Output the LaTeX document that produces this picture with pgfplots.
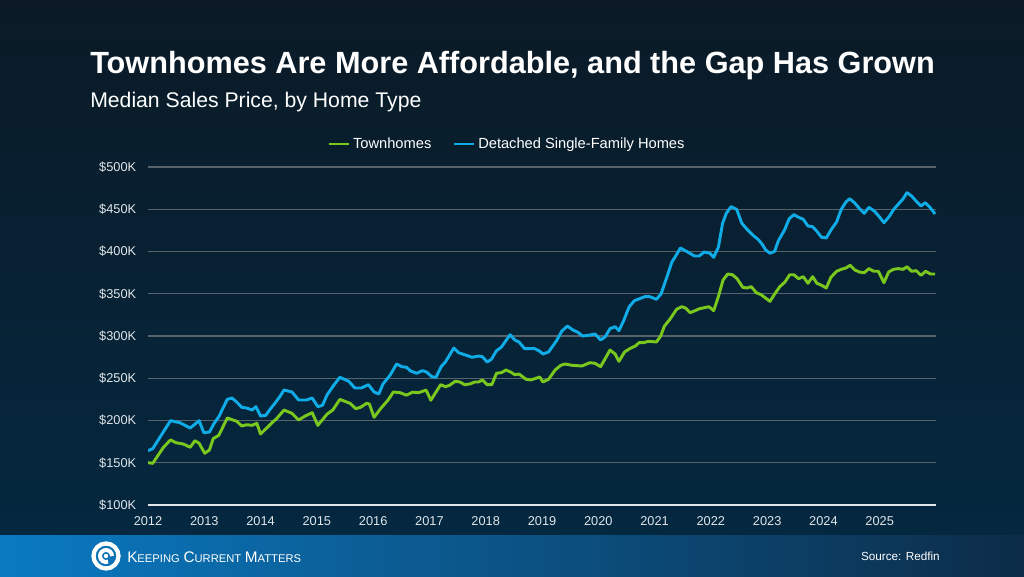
\documentclass[border=0pt]{standalone}
\usepackage{fontspec}
\setmainfont{Liberation Sans}
\usepackage{pgfplots}
\pgfplotsset{compat=1.18}

\definecolor{bgtop}{RGB}{11,26,38}
\definecolor{bgbot}{RGB}{4,40,64}
\definecolor{town}{RGB}{122,200,30}
\definecolor{detached}{RGB}{16,172,232}
\definecolor{gridc}{RGB}{88,98,106}
\definecolor{footl}{RGB}{10,122,194}
\definecolor{footr}{RGB}{12,44,72}
\definecolor{ticktxt}{RGB}{225,230,234}

\begin{document}
\begin{tikzpicture}[x=0.75pt,y=0.75pt]
% background and footer band (1 unit = 1 px of the 1024x576 picture)
\shade[top color=bgtop,bottom color=bgbot] (0,41) rectangle (1024,576);
\shade[left color=footl,right color=footr] (0,0) rectangle (1024,41);
\useasboundingbox (0,0) rectangle (1024,576);

\node[anchor=base west,inner sep=0,text=white,font=\fontsize{23}{27}\selectfont\bfseries]
  at (90,502) {Townhomes Are More Affordable, and the Gap Has Grown};
\node[anchor=base west,inner sep=0,text=white,font=\fontsize{15.9}{19}\selectfont]
  at (90,468) {Median Sales Price, by Home Type};

\begin{axis}[
  at={(111pt,53.25pt)}, anchor=south west,
  width=591pt, height=253.5pt, scale only axis,
  xmin=0, xmax=168, ymin=100, ymax=500,
  axis line style={draw=none},
  major tick length=0pt,
  xtick={0,12,24,36,48,60,72,84,96,108,120,132,144,156},
  xticklabels={2012,2013,2014,2015,2016,2017,2018,2019,2020,2021,2022,2023,2024,2025},
  ytick={150,200,250,300,350,400,450,500},
  yticklabels={\$150K,\$200K,\$250K,\$300K,\$350K,\$400K,\$450K,\$500K},
  extra y ticks={100},
  extra y tick labels={\$100K},
  extra y tick style={grid style={draw=ticktxt,line width=1.5pt}},
  ymajorgrids,
  grid style={draw=gridc,line width=0.8pt},
  tick label style={font=\fontsize{9.6}{11}\selectfont,text=ticktxt},
  yticklabel style={xshift=-5.3pt},
  xticklabel style={yshift=-4.8pt},
  legend columns=2,
  legend style={at={(axis description cs:0.456,1.068)},anchor=center,
    draw=none,fill=none,text=white,font=\fontsize{11}{13}\selectfont,
    /tikz/every even column/.append style={column sep=14pt}},
  legend image code/.code={\draw[#1,line width=2.2pt] (0pt,0pt) -- (15pt,0pt);},
  every axis plot/.append style={line width=2.2pt,line join=round,mark=none},
]
\addplot[town] coordinates {
(0,150.1) (1,149.3) (3.3,168.3) (4.8,177.0) (6,173.7) (7.5,172.2) (9,168.3) (10,176.1)
(10.9,173.0) (12.1,161.2) (13.1,165.1) (13.9,178.5) (15.1,182.5) (16.9,203.0) (18.9,199.1)
(20,193.5) (21,195.0) (22.2,194.3) (23.2,196.7) (24,184.0) (25.3,191.1) (26.6,198.2)
(27.4,202.1) (29,212.4) (30.7,208.5) (32.1,200.6) (33.5,205.3) (35,209.2) (36.2,194.3)
(38.2,207.7) (39.4,212.4) (40.9,225.0) (43.1,220.3) (44.3,214.0) (45.3,215.6) (46.6,220.3)
(47.2,219.5) (48.2,203.8) (49.7,214.8) (51.2,224.3) (52.3,233.7) (53.7,233.0) (55.1,230.0)
(56.4,233.5) (57.7,233.0) (59.3,236.0) (60.3,224.0) (61.4,233.7) (62.4,242.4) (63.4,240.0)
(64.3,241.7) (65.5,246.4) (66.5,245.6) (67.5,242.4) (68.6,243.2) (69.7,245.6) (70.5,245.6)
(71.3,248.0) (72.3,242.4) (73.3,242.4) (74.3,255.9) (75.4,256.7) (76.3,259.8) (77.3,257.4)
(78.2,254.2) (79.1,255.0) (80.6,248.8) (81.6,248.0) (82.5,249.6) (83.5,251.5) (84.2,245.6)
(85.4,248.8) (86.8,259.8) (88,265.3) (88.9,266.9) (90.4,265.3) (92.5,264.5) (94.2,268.4)
(95.3,267.7) (96.5,263.7) (98.5,283.4) (99.6,278.7) (100.4,270.0) (101.6,281.1) (102.7,285.0)
(103.9,288.2) (104.7,292.1) (105.6,292.1) (106.7,293.7) (108.4,292.9) (109.3,300.0)
(110.1,311.8) (111.3,320.0) (112.7,331.6) (113.8,334.7) (114.6,333.1) (115.6,327.6)
(117.6,332.3) (119.6,334.7) (120.6,330.0) (121.6,346.5) (122.6,366.3) (123.6,373.4)
(124.6,372.5) (125.6,367.8) (126.8,357.6) (127.7,356.8) (128.6,358.4) (129.7,351.2)
(130.7,348.9) (132.6,341.0) (133.7,350.5) (134.7,358.4) (135.8,363.9) (136.8,372.5)
(137.7,372.5) (138.7,367.8) (139.7,370.2) (140.7,362.4) (141.7,370.2) (142.6,362.4)
(143.6,360.0) (144.6,356.8) (145.6,369.5) (146.8,376.6) (147.8,378.9) (148.8,380.5)
(149.7,383.7) (150.7,378.1) (151.7,375.7) (152.7,374.9) (153.7,379.7) (154.7,376.6)
(155.7,376.6) (156.9,363.1) (157.9,375.7) (158.9,378.9) (160,379.7) (161,378.9)
(161.8,382.0) (162.8,376.6) (163.8,377.3) (164.8,371.8) (165.8,376.6) (166.8,373.4) (167.8,373.4)
};
\addlegendentry{Townhomes}
\addplot[detached] coordinates {
(0,164.3) (1,166.6) (4.8,199.8) (6.8,197.4) (9,191.1) (10.9,199.8) (11.9,185.6) (13.1,186.4)
(14.1,196.7) (15.1,204.5) (16.9,225.0) (17.9,226.6) (18.9,221.9) (20,215.6) (21,214.8)
(22.2,212.4) (23,216.4) (24,205.3) (25.1,206.1) (26,213.0) (27,220.0) (28.1,228.2) (29,236.1)
(30.7,233.7) (32.1,224.3) (33.8,224.3) (35,226.6) (36.2,216.4) (37.2,218.0) (38.2,230.5)
(39.6,241.7) (40.9,251.1) (42.8,246.4) (44.1,238.5) (45.5,238.5) (47,242.4) (48.2,233.7)
(49.2,231.4) (50.1,243.2) (51.6,253.5) (53,266.9) (54.1,263.7) (55.1,263.0) (56,258.5)
(57.3,255.9) (58.5,259.0) (59.4,257.4) (60.5,251.8) (61.4,251.1) (62.5,263.7) (63.4,269.2)
(65.2,285.8) (66.2,280.3) (67.5,277.9) (69.1,274.8) (70.5,276.3) (71.3,275.5) (72.3,269.2)
(73.2,272.4) (74.3,282.6) (75.3,286.6) (77.2,301.5) (78.2,295.3) (79.1,292.9) (80.3,285.0)
(81.4,285.0) (82.3,285.4) (83.5,282.0) (84.2,278.7) (85.4,281.1) (87.1,294.4) (88.2,305.6)
(89.4,311.8) (90.6,307.1) (91.8,303.9) (92.6,300.0) (93.9,300.8) (95.3,302.4) (96.5,295.3)
(97.5,299.2) (98.5,308.7) (99.6,311.0) (100.4,306.3) (101.4,318.1) (102.6,334.7) (103.7,341.8)
(105.9,346.5) (107,346.5) (108.4,343.4) (109.4,350.0) (110.7,371.0) (111.7,387.6)
(112.5,394.7) (113.5,404.1) (114.8,400.2) (116.5,394.7) (117.5,394.7) (118.6,399.4)
(119.8,397.9) (120.6,393.1) (121.6,405.0) (122.5,433.4) (123.3,445.2) (124.3,453.1)
(125.5,449.9) (126.6,433.4) (127.7,426.3) (129,419.2) (130.2,413.6) (130.9,408.9)
(131.7,401.8) (132.6,397.9) (133.6,400.2) (134.4,412.8) (135.7,425.4) (136.7,438.8)
(137.7,443.6) (138.7,440.5) (139.7,438.1) (140.7,430.2) (141.7,429.3) (142.6,423.9)
(143.6,416.8) (144.6,416.0) (145.6,425.4) (146.8,434.9) (147.8,449.9) (148.8,458.6)
(149.6,462.5) (150.6,457.8) (151.7,450.7) (152.7,445.2) (153.7,452.3) (154.9,447.6)
(155.9,441.2) (156.9,434.1) (158,441.2) (159,449.9) (160,456.2) (161,462.5) (161.8,469.6)
(162.8,465.7) (163.8,459.4) (164.8,453.8) (165.7,457.8) (166.7,452.3) (167.8,444.4)
};
\addlegendentry{Detached Single-Family Homes}
\end{axis}

% footer: logo mark, wordmark and source
\draw[white,line width=3.2] (106,20) circle (12.5);
\draw[white,line width=3] (112,20) arc (0:290:6);
\fill[white] (106,20) circle (2.2);
\node[anchor=base west,inner sep=0,text=white] at (127,14)
  {{\fontsize{11.5}{12}\selectfont K}{\fontsize{8.4}{10}\selectfont EEPING}
   {\fontsize{11.5}{12}\selectfont C}{\fontsize{8.4}{10}\selectfont URRENT}
   {\fontsize{11.5}{12}\selectfont M}{\fontsize{8.4}{10}\selectfont ATTERS}};
\node[anchor=base east,inner sep=0,text=white,font=\fontsize{8.8}{10}\selectfont]
  at (940,16) {Source: Redfin};
\end{tikzpicture}
\end{document}
